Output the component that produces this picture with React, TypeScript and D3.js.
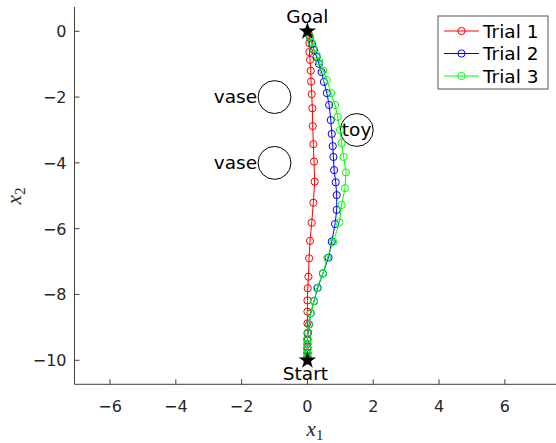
import React from "react";
import * as d3 from "d3";

const trial1X = [0, 0.05, 0.06, 0.06, 0.08, 0.10, 0.11, 0.13, 0.15, 0.16, 0.18, 0.20, 0.22, 0.18, 0.13, 0.08, 0.05, 0.03, 0.01, 0.0, 0, 0, 0, 0, 0, 0, 0, 0];
const trial1Y = [0, -0.11, -0.36, -0.63, -0.87, -1.20, -1.53, -1.91, -2.34, -2.88, -3.43, -3.96, -4.57, -5.21, -5.82, -6.37, -6.90, -7.46, -7.81, -8.18, -8.52, -8.88, -9.18, -9.40, -9.60, -9.76, -9.89, -10];

const trial2X = [0, 0.08, 0.14, 0.20, 0.28, 0.35, 0.43, 0.50, 0.59, 0.66, 0.71, 0.74, 0.77, 0.79, 0.81, 0.86, 0.89, 0.89, 0.84, 0.74, 0.64, 0.47, 0.31, 0.20, 0.10, 0.05, 0.02, 0.0, 0, 0, 0, 0, 0];
const trial2Y = [0, -0.20, -0.39, -0.57, -0.78, -0.99, -1.24, -1.54, -1.88, -2.24, -2.70, -3.12, -3.49, -3.82, -4.22, -4.59, -4.98, -5.43, -5.86, -6.39, -6.88, -7.36, -7.80, -8.20, -8.57, -8.91, -9.16, -9.35, -9.51, -9.66, -9.79, -9.90, -10];

const trial3X = [0, 0.08, 0.12, 0.18, 0.28, 0.36, 0.48, 0.59, 0.72, 0.84, 0.92, 0.99, 1.04, 1.10, 1.17, 1.14, 1.04, 0.97, 0.79, 0.60, 0.47, 0.29, 0.20, 0.10, 0.05, 0.01, 0, 0, 0, 0, 0, 0];
const trial3Y = [0, -0.17, -0.33, -0.52, -0.72, -0.92, -1.20, -1.48, -1.88, -2.24, -2.60, -3.00, -3.40, -3.82, -4.29, -4.77, -5.28, -5.81, -6.40, -6.90, -7.36, -7.81, -8.20, -8.57, -8.91, -9.16, -9.35, -9.51, -9.66, -9.79, -9.90, -10];

const seriesNames = ["Trial 1", "Trial 2", "Trial 3"];
const seriesColors = ["#ff0000", "#0000ff", "#00ff00"];

const obstacleNames = ["vase", "vase", "toy"];
const obstacleX = [-1, -1, 1.5];
const obstacleY = [-2, -4, -3];
const obstacleR = [0.5, 0.5, 0.5];

const xTicks = [-6, -4, -2, 0, 2, 4, 6];
const yTicks = [0, -2, -4, -6, -8, -10];

const xDomain = [-7.08, 7.6];
const yDomain = [-10.73, 0.74];

const W = 556;
const H = 443;

const fmt = (v: number) => (v < 0 ? "\u2212" + Math.abs(v) : String(v));

export default function App() {
  const x = d3.scaleLinear().domain(xDomain).range([74.5, 74.5 + 32.9 * (xDomain[1] - xDomain[0])]);
  const y = d3.scaleLinear().domain(yDomain).range([384.3, 384.3 - 32.9 * (yDomain[1] - yDomain[0])]);
  const unit = x(1) - x(0);

  const series = [
    { xs: trial1X, ys: trial1Y },
    { xs: trial2X, ys: trial2Y },
    { xs: trial3X, ys: trial3Y },
  ];
  const line = d3
    .line<[number, number]>()
    .x((d) => x(d[0]))
    .y((d) => y(d[1]));
  const star = d3.symbol().type(d3.symbolStar).size(95)() as string;

  const axisColor = "#404040";
  const font = "'DejaVu Sans', sans-serif";
  const x0 = x.range()[0];
  const yb = y.range()[0];
  const yt = y.range()[1];

  const legX = 438;
  const legY = 16;
  const legW = 110;
  const legH = 73;
  const txt = 18.5;

  return (
    <div style={{ position: "fixed", left: 0, top: 0 }}>
      <svg width={W} height={H} style={{ display: "block", background: "#fff" }}>
        {/* axes */}
        <line x1={x0} x2={W} y1={yb} y2={yb} stroke={axisColor} strokeWidth={1} />
        <line x1={x0} x2={x0} y1={yb} y2={yt} stroke={axisColor} strokeWidth={1} />
        {xTicks.map((t) => (
          <g key={"xt" + t}>
            <line x1={x(t)} x2={x(t)} y1={yb} y2={yb - 5} stroke={axisColor} />
            <text x={x(t)} y={yb + 28} textAnchor="middle" fontFamily={font} fontSize={16} fill="#262626">
              {fmt(t)}
            </text>
          </g>
        ))}
        {yTicks.map((t) => (
          <g key={"yt" + t}>
            <line x1={x0} x2={x0 + 5} y1={y(t)} y2={y(t)} stroke={axisColor} />
            <text x={x0 - 8} y={y(t) + 6} textAnchor="end" fontFamily={font} fontSize={16} fill="#262626">
              {fmt(t)}
            </text>
          </g>
        ))}
        {/* axis labels */}
        <text x={315} y={436} textAnchor="middle" fontFamily="'Liberation Serif', serif" fontSize={21} fill="#262626">
          <tspan fontStyle="italic">x</tspan>
          <tspan fontSize={15} dy={4}>1</tspan>
        </text>
        <text
          transform={`translate(21,196) rotate(-90)`}
          textAnchor="middle"
          fontFamily="'Liberation Serif', serif"
          fontSize={21}
          fill="#262626"
        >
          <tspan fontStyle="italic">x</tspan>
          <tspan fontSize={15} dy={4}>2</tspan>
        </text>

        {/* obstacles */}
        {obstacleX.map((ox, i) => (
          <circle key={"ob" + i} cx={x(ox)} cy={y(obstacleY[i])} r={obstacleR[i] * unit} fill="none" stroke="#000" strokeWidth={1} />
        ))}
        {obstacleNames.map((n, i) =>
          n === "toy" ? (
            <text key={"on" + i} x={x(obstacleX[i] - obstacleR[i]) + 1.5} y={y(obstacleY[i]) + 6} fontFamily={font} fontSize={txt} fill="#000">
              {n}
            </text>
          ) : (
            <text key={"on" + i} x={x(obstacleX[i] - obstacleR[i]) - 1} y={y(obstacleY[i]) + 6} textAnchor="end" fontFamily={font} fontSize={txt} fill="#000">
              {n}
            </text>
          )
        )}

        {/* trajectories */}
        {series.map((s, si) => {
          const pts = s.xs.map((v, i) => [v, s.ys[i]] as [number, number]);
          return (
            <g key={"s" + si}>
              <path d={line(pts) as string} fill="none" stroke={seriesColors[si]} strokeWidth={1} />
              {pts.map((p, i) => (
                <circle key={i} cx={x(p[0])} cy={y(p[1])} r={3.6} fill="none" stroke={seriesColors[si]} strokeWidth={1} />
              ))}
            </g>
          );
        })}

        {/* start / goal */}
        <path d={star} transform={`translate(${x(0)},${y(0)})`} fill="#000" />
        <path d={star} transform={`translate(${x(0)},${y(-10)})`} fill="#000" />
        <text x={x(0)} y={y(0) - 8} textAnchor="middle" fontFamily={font} fontSize={txt} fill="#000">
          Goal
        </text>
        <text x={x(0) - 2} y={y(-10) + 20} textAnchor="middle" fontFamily={font} fontSize={txt} fill="#000">
          Start
        </text>

        {/* legend */}
        <rect x={legX} y={legY} width={legW} height={legH} fill="#fff" stroke="#555" strokeWidth={1} />
        {seriesNames.map((n, i) => {
          const cy = legY + 15 + i * 22.5;
          return (
            <g key={"lg" + i}>
              <line x1={legX + 6} x2={legX + 41} y1={cy} y2={cy} stroke={seriesColors[i]} strokeWidth={1} />
              <circle cx={legX + 23.5} cy={cy} r={3.6} fill="none" stroke={seriesColors[i]} strokeWidth={1} />
              <text x={legX + 45} y={cy + 6.5} fontFamily={font} fontSize={txt} fill="#000">
                {n}
              </text>
            </g>
          );
        })}
      </svg>
    </div>
  );
}
